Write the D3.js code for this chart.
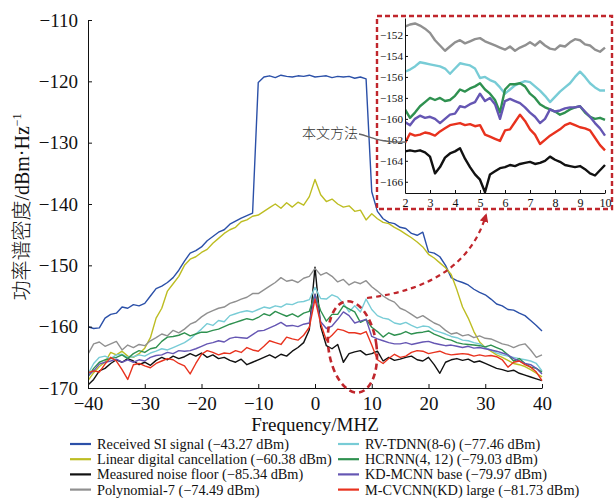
<!DOCTYPE html>
<html>
<head>
<meta charset="utf-8">
<script src="https://cdn.jsdelivr.net/npm/d3@7"></script>
<style>
  body { margin: 0; background: #fff; }
  svg { display: block; }
</style>
</head>
<body>
<div id="chart"></div>
<script>
// frequency grid of the main plot, MHz
const freq = d3.range(-40, 41);

// PSD values, dBm/Hz, one per MHz from -40 to 40
const receivedSI = [
  -160.0,-160.3,-160.2,-158.6,-158.0,-157.8,-156.8,-157.0,-156.4,-156.6,
  -156.2,-155.0,-153.8,-153.4,-152.8,-152.0,-150.8,-149.3,-148.0,-147.6,
  -147.0,-146.0,-145.3,-144.6,-144.2,-143.3,-142.8,-142.3,-141.9,-141.5,
  -120.2,-119.3,-119.1,-119.4,-119.0,-119.2,-119.3,-119.1,-119.2,-119.0,
  -119.3,-119.2,-119.1,-119.4,-119.2,-119.3,-119.2,-119.5,-119.3,-119.6,
  -138.0,-141.2,-142.4,-143.0,-143.2,-143.8,-144.0,-144.8,-145.1,-144.6,
  -147.8,-148.0,-148.6,-150.0,-152.0,-152.5,-152.8,-153.2,-153.9,-154.4,
  -154.8,-155.5,-156.3,-156.6,-157.2,-157.3,-157.8,-158.2,-159.0,-159.8,
  -160.7];
const linearCancel = [
  -168.8,-167.5,-166.5,-165.8,-164.2,-164.6,-164.0,-164.8,-165.0,-164.4,
  -163.5,-161.8,-158.6,-157.0,-154.2,-153.0,-151.8,-150.0,-149.0,-148.6,
  -147.9,-147.4,-146.4,-145.6,-144.8,-144.2,-143.8,-142.9,-142.6,-142.0,
  -141.8,-141.2,-140.6,-140.0,-140.7,-139.8,-140.5,-139.7,-140.2,-138.8,
  -136.0,-138.5,-139.6,-139.2,-140.0,-140.5,-140.3,-141.2,-141.0,-142.6,
  -141.6,-142.4,-143.0,-143.2,-143.8,-144.3,-144.9,-145.5,-146.2,-147.0,
  -148.2,-148.8,-149.6,-150.4,-151.5,-154.0,-156.8,-158.6,-160.8,-162.5,
  -163.4,-164.0,-164.6,-165.0,-165.5,-166.0,-166.2,-166.5,-167.0,-167.6,
  -168.2];
const noiseFloor = [
  -169.5,-168.6,-167.2,-166.8,-166.0,-165.4,-165.8,-165.2,-165.6,-166.2,
  -165.8,-166.3,-165.5,-165.0,-165.4,-164.8,-165.2,-164.9,-164.4,-164.8,
  -164.3,-165.0,-164.6,-165.2,-165.0,-165.5,-165.8,-165.3,-166.2,-165.8,
  -165.4,-165.0,-164.6,-165.1,-164.5,-164.8,-164.0,-163.4,-162.6,-160.5,
  -150.3,-160.0,-163.1,-163.6,-162.9,-165.8,-164.4,-164.1,-163.9,-164.6,
  -164.4,-164.0,-165.6,-165.0,-165.5,-165.3,-165.0,-164.8,-165.4,-165.6,
  -165.0,-166.2,-167.6,-165.8,-165.4,-165.2,-165.5,-165.3,-165.8,-165.6,
  -166.0,-166.4,-166.8,-167.0,-167.3,-167.1,-167.6,-167.9,-168.2,-168.5,
  -168.8];
const poly7 = [
  -164.5,-162.8,-162.5,-163.2,-162.8,-162.4,-163.8,-163.0,-163.4,-162.9,
  -163.1,-162.3,-161.8,-161.2,-161.5,-160.6,-161.0,-160.4,-159.6,-159.2,
  -158.4,-157.8,-157.4,-157.0,-156.8,-156.2,-155.9,-155.5,-155.2,-154.6,
  -154.6,-154.0,-153.4,-152.8,-152.0,-152.6,-152.4,-152.8,-152.1,-151.8,
  -150.5,-151.6,-151.2,-151.8,-152.7,-152.3,-153.2,-152.7,-153.0,-152.5,
  -153.5,-154.2,-155.0,-155.6,-156.0,-157.0,-157.4,-158.0,-158.6,-158.2,
  -158.8,-159.4,-159.8,-160.6,-161.2,-161.0,-161.5,-161.3,-161.8,-161.5,
  -161.9,-162.0,-162.4,-162.8,-163.0,-163.4,-163.0,-162.8,-163.8,-165.0,
  -164.6];
const rvTdnn = [
  -167.7,-166.0,-165.0,-164.8,-165.2,-164.6,-164.5,-165.0,-164.9,-164.6,
  -164.8,-164.3,-164.0,-163.6,-163.8,-163.4,-163.0,-162.6,-162.0,-161.2,
  -160.4,-159.5,-159.8,-159.0,-159.2,-158.2,-157.9,-157.6,-157.4,-157.6,
  -157.2,-156.8,-157.0,-156.6,-156.8,-156.3,-156.4,-156.0,-155.9,-155.6,
  -153.6,-155.4,-155.5,-154.8,-155.2,-156.2,-157.6,-156.6,-157.6,-155.5,
  -157.2,-158.2,-158.6,-158.8,-159.4,-159.6,-159.3,-159.8,-160.2,-159.9,
  -160.0,-160.6,-160.9,-161.2,-161.6,-161.8,-162.2,-162.3,-162.6,-162.8,
  -163.4,-163.8,-164.3,-164.6,-164.8,-165.0,-165.2,-165.4,-165.6,-166.0,
  -167.2];
const hcrnn = [
  -168.2,-166.8,-165.8,-165.4,-165.2,-165.0,-164.6,-165.2,-164.4,-163.9,
  -164.2,-163.6,-163.4,-162.4,-161.7,-161.6,-161.4,-161.0,-161.5,-161.2,
  -160.9,-160.9,-160.6,-160.4,-160.0,-159.6,-159.3,-159.0,-158.7,-158.9,
  -158.5,-157.9,-158.2,-157.5,-157.9,-158.3,-157.9,-158.4,-157.8,-157.5,
  -154.7,-157.4,-159.1,-158.0,-158.0,-156.6,-157.1,-157.6,-159.3,-158.8,
  -160.1,-160.8,-161.7,-161.0,-161.4,-161.2,-160.8,-161.2,-161.0,-160.9,
  -160.7,-161.2,-161.6,-162.0,-162.2,-162.6,-162.8,-162.9,-163.0,-163.1,
  -163.3,-163.0,-163.4,-163.8,-164.6,-165.6,-165.2,-166.0,-166.6,-166.8,
  -167.4];
const kdMcnn = [
  -168.0,-167.2,-166.1,-165.8,-165.6,-165.3,-165.8,-165.4,-165.8,-165.4,
  -165.6,-165.0,-164.7,-164.6,-164.2,-164.4,-163.9,-164.0,-163.9,-163.6,
  -163.2,-162.8,-162.6,-162.3,-162.5,-161.9,-161.7,-161.8,-161.9,-161.3,
  -160.7,-160.6,-160.2,-159.8,-159.3,-159.9,-159.8,-160.0,-159.6,-159.4,
  -154.7,-159.2,-160.3,-159.9,-158.8,-157.6,-158.2,-159.4,-159.1,-158.8,
  -161.6,-162.0,-162.3,-162.6,-162.8,-162.8,-162.6,-162.9,-162.7,-162.5,
  -162.4,-162.7,-162.9,-163.1,-163.0,-163.2,-163.4,-163.2,-163.5,-163.4,
  -163.6,-163.8,-164.0,-164.3,-164.6,-165.2,-165.6,-166.0,-166.2,-166.8,
  -167.7];
const mCvcnn = [
  -167.5,-167.2,-167.4,-166.1,-165.0,-165.6,-167.0,-168.6,-166.2,-166.0,
  -166.4,-166.7,-166.0,-165.6,-165.2,-165.4,-166.0,-166.4,-167.7,-166.0,
  -164.5,-163.9,-164.2,-164.6,-164.3,-164.4,-163.9,-164.2,-163.4,-163.8,
  -164.0,-163.2,-162.3,-162.6,-162.9,-161.7,-162.0,-162.2,-161.4,-160.1,
  -155.5,-159.5,-162.2,-161.4,-160.4,-160.6,-161.0,-161.0,-161.2,-160.8,
  -163.0,-165.4,-166.0,-165.2,-164.5,-165.0,-164.8,-164.2,-163.9,-164.0,
  -164.4,-164.2,-164.0,-164.4,-164.6,-164.5,-164.4,-164.5,-164.8,-164.6,
  -164.8,-164.7,-164.9,-165.4,-166.6,-165.8,-165.6,-166.2,-166.6,-167.4,
  -168.8];

// zoomed inset, 2..10 MHz every 0.2 MHz
const insetFreq = d3.range(0, 41).map(i => +(2 + i * 0.2).toFixed(1));
const insetPoly7 = [
  -151.2,-151.0,-150.9,-151.1,-151.4, -151.8,-152.5,-153.0,-153.5,-153.1,
  -152.7,-152.5,-152.8,-152.6,-152.4, -152.3,-152.6,-152.8,-153.0,-153.2,
  -153.4,-153.1,-153.5,-153.2,-153.0, -152.7,-153.0,-152.6,-153.0,-153.3,
  -153.4,-153.0,-153.1,-152.7,-152.4, -152.5,-152.9,-153.0,-153.4,-153.6,
  -153.2];
const insetRvTdnn = [
  -155.5,-155.3,-155.0,-154.6,-154.7, -154.8,-154.9,-155.0,-155.2,-155.7,
  -155.2,-154.7,-154.8,-154.9,-155.2, -156.1,-156.0,-156.3,-156.5,-157.0,
  -157.6,-157.2,-156.8,-156.6,-156.4, -156.5,-156.9,-157.3,-157.8,-158.4,
  -157.9,-157.4,-157.0,-156.6,-156.0, -155.5,-156.0,-156.6,-157.0,-157.3,
  -157.3];
const insetHcrnn = [
  -159.1,-159.9,-159.4,-158.8,-158.4, -158.0,-158.2,-158.0,-158.3,-158.2,
  -157.8,-157.2,-157.4,-157.1,-156.9, -156.6,-157.2,-157.6,-158.2,-159.4,
  -157.2,-156.7,-156.7,-156.6,-156.9, -157.6,-158.0,-158.6,-158.9,-159.1,
  -159.3,-159.6,-159.4,-159.1,-158.9, -158.8,-159.4,-159.8,-160.0,-159.9,
  -160.1];
const insetKdMcnn = [
  -160.3,-160.6,-160.0,-159.7,-159.9, -159.8,-160.0,-160.4,-160.0,-159.6,
  -159.5,-158.8,-158.9,-158.6,-158.4, -157.6,-158.3,-158.0,-158.6,-160.0,
  -158.3,-158.1,-158.3,-158.5,-158.9, -159.4,-159.8,-160.4,-160.0,-159.1,
  -159.3,-159.2,-159.0,-158.9,-158.9, -158.8,-159.3,-159.8,-160.4,-160.9,
  -161.6];
const insetMCvcnn = [
  -162.3,-161.4,-161.6,-161.5,-161.3, -161.4,-161.6,-161.2,-160.9,-160.6,
  -160.5,-160.4,-160.6,-160.5,-160.7, -160.6,-161.5,-161.7,-161.9,-162.1,
  -161.1,-161.0,-160.3,-159.6,-160.2, -161.0,-161.5,-162.4,-162.0,-161.6,
  -161.3,-161.0,-160.6,-160.4,-160.6, -160.8,-160.9,-161.1,-161.8,-162.5,
  -163.0];
const insetNoise = [
  -163.1,-163.0,-163.1,-163.0,-163.2, -163.6,-165.2,-164.6,-163.7,-163.3,
  -163.1,-162.8,-163.8,-164.6,-165.3, -165.8,-167.0,-165.3,-165.0,-164.7,
  -164.6,-164.4,-164.5,-164.3,-164.2, -164.1,-164.3,-164.2,-164.0,-163.6,
  -163.9,-164.1,-164.4,-164.5,-164.6, -164.5,-164.8,-165.2,-165.4,-164.9,
  -164.4];

const xTicks = [-40, -30, -20, -10, 0, 10, 20, 30, 40];
const yTicks = [-170, -160, -150, -140, -130, -120, -110];
const insetXTicks = [2, 3, 4, 5, 6, 7, 8, 9, 10];
const insetYTicks = [-166, -164, -162, -160, -158, -156, -154, -152];

const names = [
  "Received SI signal (\u221243.27 dBm)",
  "Linear digital cancellation (\u221260.38 dBm)",
  "Measured noise floor (\u221285.34 dBm)",
  "Polynomial-7 (\u221274.49 dBm)",
  "RV-TDNN(8-6) (\u221277.46 dBm)",
  "HCRNN(4, 12) (\u221279.03 dBm)",
  "KD-MCNN base (\u221279.97 dBm)",
  "M-CVCNN(KD) large (\u221281.73 dBm)"
];
const colors = ["#2b50a8", "#bdbd22", "#111111", "#909090", "#78ccd6", "#2f9150", "#6556b3", "#e8321e"];

const series = [receivedSI, linearCancel, noiseFloor, poly7, rvTdnn, hcrnn, kdMcnn, mCvcnn];
const insetSeries = [
  { v: insetPoly7, c: 3 }, { v: insetRvTdnn, c: 4 }, { v: insetHcrnn, c: 5 },
  { v: insetKdMcnn, c: 6 }, { v: insetMCvcnn, c: 7 }, { v: insetNoise, c: 2 }
];

const serif = "'Liberation Serif', 'Times New Roman', serif";
const cjk = "'Noto Sans CJK SC', sans-serif";
const darkRed = "#c0262c";

const W = 616, H = 498;
const svg = d3.select("#chart").append("svg")
  .attr("width", W).attr("height", H)
  .style("font-family", serif);

svg.append("rect").attr("width", W).attr("height", H).attr("fill", "#fff");

// main axes
const x = d3.scaleLinear().domain([-40, 40]).range([88, 542]);
const y = d3.scaleLinear().domain([-170, -110]).range([388, 20]);

svg.append("defs").append("clipPath").attr("id", "clipMain")
  .append("rect").attr("x", 88).attr("y", 18).attr("width", 456).attr("height", 371);

const line = d3.line().x((d, i) => x(freq[i])).y(d => y(d));

svg.append("g").attr("clip-path", "url(#clipMain)")
  .selectAll("path").data(series).join("path")
  .attr("d", d => line(d))
  .attr("fill", "none")
  .attr("stroke", (d, i) => colors[i])
  .attr("stroke-width", 1.4)
  .attr("stroke-linejoin", "round");

const gx = svg.append("g").attr("transform", "translate(0,388)")
  .call(d3.axisBottom(x).tickValues(xTicks).tickSize(-4).tickSizeOuter(0).tickPadding(9)
    .tickFormat(d => d < 0 ? "\u2212" + Math.abs(d) : d));
const gy = svg.append("g").attr("transform", "translate(88,0)")
  .call(d3.axisLeft(y).tickValues(yTicks).tickSize(-4).tickSizeOuter(0).tickPadding(10)
    .tickFormat(d => d < 0 ? "\u2212" + Math.abs(d) : d));
[gx, gy].forEach(g => {
  g.selectAll("text").attr("font-size", 19).attr("font-family", serif).attr("fill", "#111");
  g.select(".domain").attr("stroke", "#111");
  g.selectAll(".tick line").attr("stroke", "#111");
});

// axis titles
svg.append("text").attr("x", 315).attr("y", 431).attr("text-anchor", "middle")
  .attr("font-size", 19).attr("fill", "#111").text("Frequency/MHZ");

const yl = svg.append("text").attr("transform", "translate(29,207) rotate(-90)")
  .attr("text-anchor", "middle").attr("font-size", 20).attr("fill", "#111");
yl.append("tspan").attr("font-family", cjk).attr("font-weight", 300).text("功率谱密度");
yl.append("tspan").text("/dBm\u00b7Hz");
yl.append("tspan").attr("font-size", 12).attr("dy", -8).text("\u22121");

// dashed ellipse around the 2-10 MHz band
svg.append("ellipse")
  .attr("cx", x(6.6)).attr("cy", y(-163.3)).attr("rx", 24).attr("ry", 46)
  .attr("transform", `rotate(-8,${x(6.6)},${y(-163.3)})`)
  .attr("fill", "none").attr("stroke", darkRed).attr("stroke-width", 2.6)
  .attr("stroke-dasharray", "6,4");

svg.select("defs").append("marker").attr("id", "arrow")
  .attr("viewBox", "0 0 10 10").attr("refX", 8).attr("refY", 5)
  .attr("markerWidth", 4).attr("markerHeight", 4).attr("orient", "auto")
  .append("path").attr("d", "M0,0L10,5L0,10z").attr("fill", darkRed);

svg.append("path")
  .attr("d", "M367,298 Q465,286 486,215")
  .attr("fill", "none").attr("stroke", darkRed).attr("stroke-width", 2.2)
  .attr("stroke-dasharray", "5,4").attr("marker-end", "url(#arrow)");

// inset
const ix = d3.scaleLinear().domain([2, 10]).range([405, 605]);
const iy = d3.scaleLinear().domain([-167.07, -150.38]).range([193, 18]);

svg.append("rect").attr("x", 377).attr("y", 16).attr("width", 235).attr("height", 193)
  .attr("fill", "#fff").attr("stroke", darkRed).attr("stroke-width", 2.4)
  .attr("stroke-dasharray", "5,3");

svg.select("defs").append("clipPath").attr("id", "clipInset")
  .append("rect").attr("x", 405).attr("y", 18).attr("width", 202).attr("height", 175);

const iline = d3.line().x((d, i) => ix(insetFreq[i])).y(d => iy(d));
svg.append("g").attr("clip-path", "url(#clipInset)")
  .selectAll("path").data(insetSeries).join("path")
  .attr("d", d => iline(d.v))
  .attr("fill", "none")
  .attr("stroke", d => colors[d.c])
  .attr("stroke-width", 2.4)
  .attr("stroke-linejoin", "round");

const igx = svg.append("g").attr("transform", "translate(0,193)")
  .call(d3.axisBottom(ix).tickValues(insetXTicks).tickSize(-3).tickSizeOuter(0).tickPadding(5));
const igy = svg.append("g").attr("transform", "translate(405,0)")
  .call(d3.axisLeft(iy).tickValues(insetYTicks).tickSize(-3).tickSizeOuter(0).tickPadding(2)
    .tickFormat(d => "\u2212" + Math.abs(d)));
igx.selectAll("text").attr("font-size", 12);
igy.selectAll("text").attr("font-size", 11.2);
[igx, igy].forEach(g => {
  g.selectAll("text").attr("font-family", serif).attr("fill", "#111");
  g.select(".domain").attr("stroke", "#111");
  g.selectAll(".tick line").attr("stroke", "#111");
});

// annotation
svg.append("text").attr("x", 302).attr("y", 138).attr("font-family", cjk)
  .attr("font-size", 14).attr("font-weight", 300).attr("fill", "#333").text("本文方法");
svg.append("path").attr("d", "M359,134 C372,137 380,143 406,142")
  .attr("fill", "none").attr("stroke", "#666").attr("stroke-width", 1.4);

// legend
const legend = svg.append("g").selectAll("g").data(names).join("g")
  .attr("transform", (d, i) => `translate(${i < 4 ? 70 : 338},${444 + (i % 4) * 15.2})`);
legend.append("line").attr("x1", 0).attr("x2", 21)
  .attr("stroke", (d, i) => colors[i]).attr("stroke-width", 2.2);
legend.append("text").attr("x", 27).attr("y", 5)
  .attr("font-size", 14.3).attr("fill", "#111").text(d => d);
</script>
</body>
</html>
